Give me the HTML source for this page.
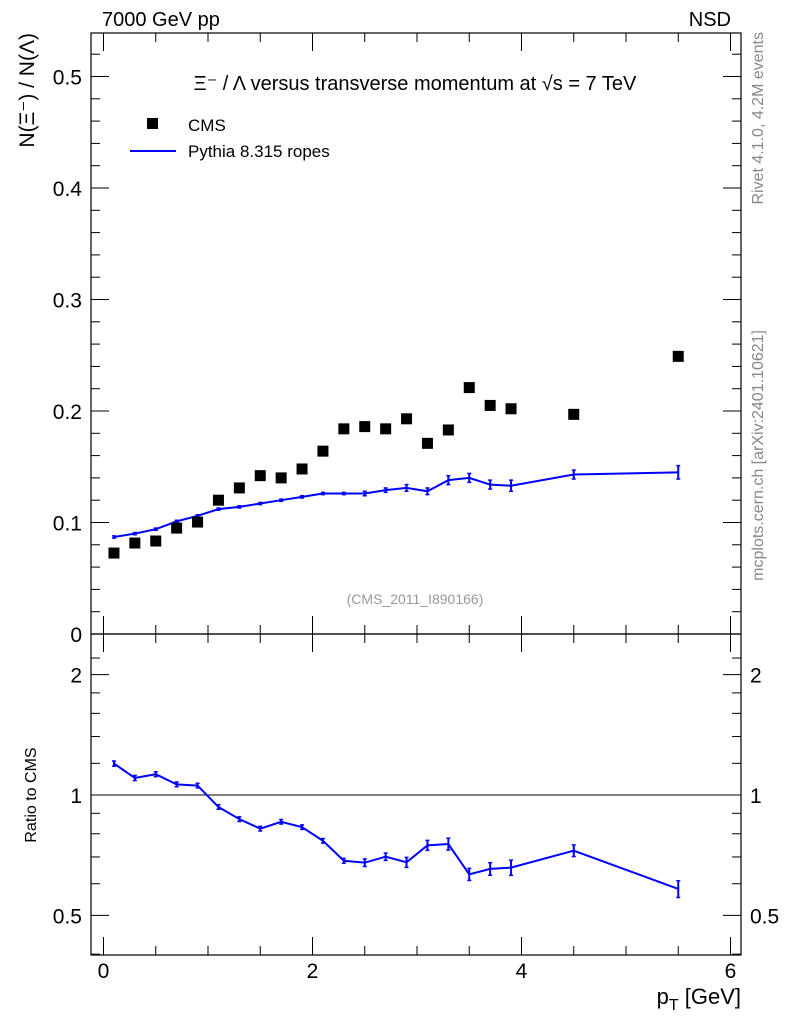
<!DOCTYPE html>
<html><head><meta charset="utf-8"><style>
body{margin:0;background:#fff;width:786px;height:1024px;overflow:hidden}
svg{font-family:"Liberation Sans",sans-serif}
</style></head><body>
<svg id="c" width="786" height="1024"></svg>
<script>
const xs=[0.1,0.3,0.5,0.7,0.9,1.1,1.3,1.5,1.7,1.9,2.1,2.3,2.5,2.7,2.9,3.1,3.3,3.5,3.7,3.9,4.5,5.5];
const cms=[0.0726,0.0816,0.0834,0.095,0.1004,0.120,0.131,0.142,0.140,0.148,0.164,0.184,0.186,0.184,0.193,0.171,0.183,0.221,0.205,0.202,0.197,0.249];
const mc=[0.087,0.090,0.094,0.101,0.106,0.112,0.114,0.117,0.120,0.123,0.126,0.126,0.126,0.129,0.131,0.128,0.138,0.140,0.134,0.133,0.143,0.145];
const mcErr=[0.001,0.001,0.001,0.001,0.001,0.001,0.001,0.001,0.001,0.001,0.001,0.001,0.002,0.002,0.003,0.003,0.004,0.004,0.004,0.005,0.004,0.006];
const yTicks=[0.1,0.2,0.3,0.4,0.5];
const rTicks=[0.5,1,2];
const xTicks=[0,2,4,6];
const NS="http://www.w3.org/2000/svg";
const svg=document.getElementById('c');
const L=91,R=741,T=33,M=634,B=955;
const X=v=>103.5+104.5*v;
const Y=v=>634-1115*v;
const YR=v=>795-400*Math.log10(v);
function el(t,a,txt){const e=document.createElementNS(NS,t);for(const k in a)e.setAttribute(k,a[k]);if(txt!==undefined)e.textContent=txt;svg.appendChild(e);return e;}
function line(x1,y1,x2,y2,c,w){return el('line',{x1,y1,x2,y2,stroke:c||'#000','stroke-width':w||1});}
let f1=el('rect',{x:L,y:T,width:R-L,height:M-T,fill:'none',stroke:'#000','stroke-width':1.2});

let f2=el('rect',{x:L,y:M,width:R-L,height:B-M,fill:'none',stroke:'#000','stroke-width':1.2});

for(let v=0;v<=6.01;v+=0.5){const maj=Math.abs(v%2)<0.01;const len=maj?18:9;const x=X(v);
 line(x,M,x,M-len);line(x,T,x,T+len);line(x,B,x,B-len);line(x,M,x,M+len);}
xTicks.forEach(v=>{const t=el('text',{x:X(v),y:978,'font-size':21,'text-anchor':'middle'},String(v));
 });
for(let i=0;i<=26;i++){const v=i*0.02;const y=Y(v);if(y<T)break;const maj=i%5==0;const len=maj?18:9;
 line(L,y,L+len,y);line(R,y,R-len,y);}
yTicks.forEach(v=>{const t=el('text',{x:82,y:Y(v)+8,'font-size':21,'text-anchor':'end'},String(v));
 });
el('text',{x:82,y:642,'font-size':21,'text-anchor':'end'},'0');
[0.4,0.5,0.6,0.7,0.8,0.9,1,1.2,1.4,1.6,1.8,2,2.2].forEach(v=>{const y=YR(v);if(y<M||y>B)return;const maj=rTicks.includes(v);const len=maj?18:9;
 line(L,y,L+len,y);line(R,y,R-len,y);});
rTicks.forEach(v=>{const y=YR(v)+8;
 const t=el('text',{x:82,y,'font-size':21,'text-anchor':'end'},String(v));
 const t2=el('text',{x:750,y,'font-size':21},String(v));});
line(L,YR(1),R,YR(1));
let pts=xs.map((x,i)=>X(x)+','+Y(mc[i])).join(' ');
let pl=el('polyline',{points:pts,fill:'none',stroke:'#0000ff','stroke-width':2});

xs.forEach((x,i)=>{line(X(x),Y(mc[i]-mcErr[i]),X(x),Y(mc[i]+mcErr[i]),'#0000ff',2);
 line(X(x)-2,Y(mc[i]-mcErr[i]),X(x)+2,Y(mc[i]-mcErr[i]),'#0000ff',1.5);line(X(x)-2,Y(mc[i]+mcErr[i]),X(x)+2,Y(mc[i]+mcErr[i]),'#0000ff',1.5);});
xs.forEach((x,i)=>{const r=el('rect',{x:X(x)-5.5,y:Y(cms[i])-5.5,width:11,height:11,fill:'#000'});
 });
const rat=xs.map((x,i)=>mc[i]/cms[i]);
let rp=el('polyline',{points:xs.map((x,i)=>X(x)+','+YR(rat[i])).join(' '),fill:'none',stroke:'#0000ff','stroke-width':2});

xs.forEach((x,i)=>{const e=mcErr[i]/cms[i]+0.004;const a=YR(rat[i]-e),b=YR(rat[i]+e);
 line(X(x),a,X(x),b,'#0000ff',2);line(X(x)-2,a,X(x)+2,a,'#0000ff',1.5);line(X(x)-2,b,X(x)+2,b,'#0000ff',1.5);});
function txt(a,s,name){const t=el('text',a,s);return t;}
txt({x:102,y:26,'font-size':20},'7000 GeV pp','energy-label');
txt({x:731,y:26,'font-size':20,'text-anchor':'end'},'NSD','process-label');
txt({x:415,y:90,'font-size':20,'text-anchor':'middle'},'Ξ⁻ / Λ versus transverse momentum at √s = 7 TeV','plot-title');
el('rect',{x:147,y:118,width:11,height:11,fill:'#000'});
txt({x:188,y:131,'font-size':17},'CMS','legend-cms');
line(130,151,176,151,'#0000ff',2);
txt({x:188,y:157,'font-size':17},'Pythia 8.315 ropes','legend-pythia');
txt({x:415,y:604,'font-size':14,'text-anchor':'middle',fill:'#999'},'(CMS_2011_I890166)','analysis-label');
txt({x:0,y:0,'font-size':21,'text-anchor':'end',transform:'translate(34,33) rotate(-90)'},'N(Ξ⁻)  /  N(Λ)','y-axis-title');
txt({x:0,y:0,'font-size':16,'text-anchor':'middle',transform:'translate(36,795) rotate(-90)'},'Ratio to CMS','ratio-axis-title');
const xt=txt({x:741,y:1004,'font-size':22,'text-anchor':'end'},'','x-axis-title');
xt.innerHTML='p<tspan font-size="16" dy="6">T</tspan><tspan dy="-6"> [GeV]</tspan>';
txt({x:0,y:0,'font-size':16,'text-anchor':'end',fill:'#888',transform:'translate(763,32) rotate(-90)'},'Rivet 4.1.0,  4.2M events','rivet-label');
txt({x:0,y:0,'font-size':16,'text-anchor':'end',fill:'#888',transform:'translate(763,330) rotate(-90)'},'mcplots.cern.ch [arXiv:2401.10621]','mcplots-label');
</script></body></html>
